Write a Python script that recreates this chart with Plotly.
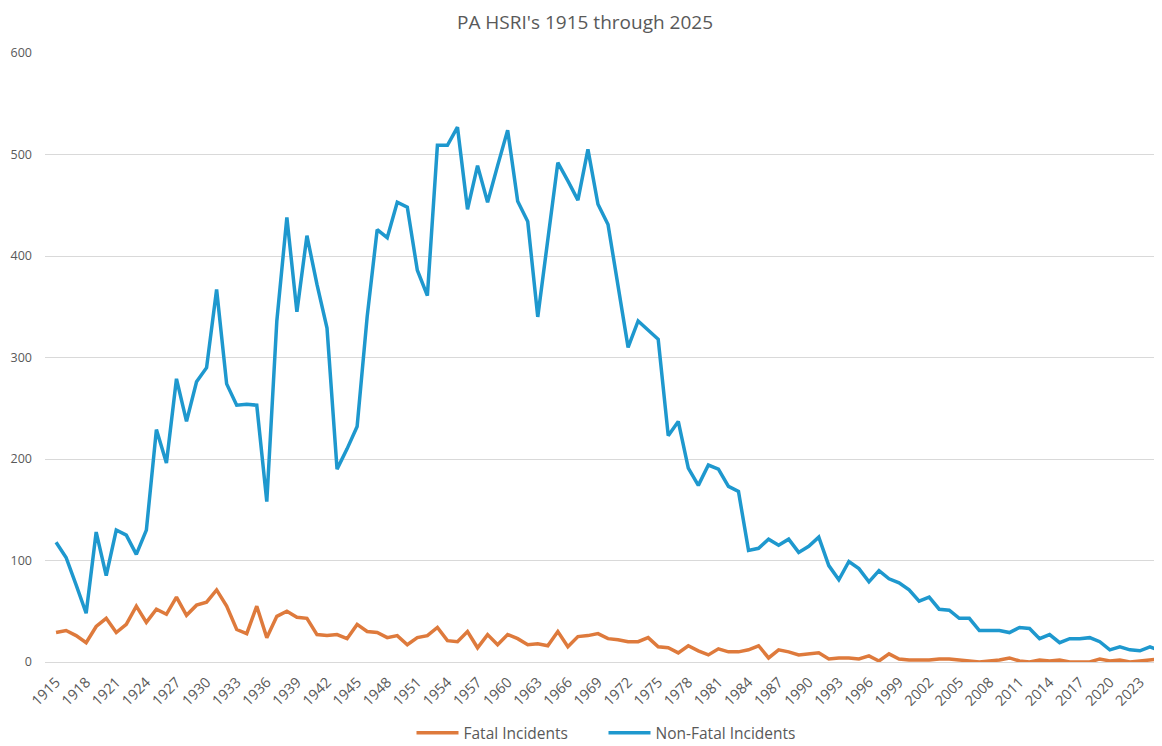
import plotly.graph_objects as go

years = list(range(1915, 2026))

fatal = [29, 31, 26, 19, 35, 43, 29, 37, 55, 39,
         52, 47, 64, 46, 56, 59, 71, 55, 32, 28,
         55, 24, 45, 50, 44, 43, 27, 26, 27, 23,
         37, 30, 29, 24, 26, 17, 24, 26, 34, 21,
         20, 30, 14, 27, 17, 27, 23, 17, 18, 16,
         30, 15, 25, 26, 28, 23, 22, 20, 20, 24,
         15, 14, 9, 16, 11, 7, 13, 10, 10, 12,
         16, 4, 12, 10, 7, 8, 9, 3, 4, 4,
         3, 6, 1, 8, 3, 2, 2, 2, 3, 3,
         2, 1, 0, 1, 2, 4, 1, 0, 2, 1,
         2, 0, 0, 0, 3, 1, 2, 0, 1, 2,
         3]

non_fatal = [118, 103, 76, 48, 128, 85, 130, 125, 106, 130,
             229, 196, 279, 237, 276, 290, 367, 274, 253, 254,
             253, 158, 336, 438, 345, 420, 372, 329, 190, 210,
             232, 340, 426, 418, 453, 448, 386, 361, 509, 509,
             527, 446, 489, 453, 489, 524, 454, 434, 340, 415,
             492, 474, 455, 505, 451, 431, 372, 310, 336, 327,
             318, 223, 237, 191, 174, 194, 190, 173, 168, 110,
             112, 121, 115, 121, 108, 114, 123, 95, 81, 99,
             92, 79, 90, 82, 78, 71, 60, 64, 52, 51,
             43, 43, 31, 31, 31, 29, 34, 33, 23, 27,
             19, 23, 23, 24, 20, 12, 15, 12, 11, 15,
             11]

tick_years = list(range(1915, 2024, 3))
tick_labels = [str(y) for y in tick_years]

fig = go.Figure()
fig.add_trace(go.Scatter(x=years, y=fatal, mode="lines", name="Fatal Incidents",
                         line=dict(color="#DE7A3C", width=3.5)))
fig.add_trace(go.Scatter(x=years, y=non_fatal, mode="lines", name="Non-Fatal Incidents",
                         line=dict(color="#1E98CE", width=3.5)))

fig.update_layout(
    width=1154, height=738,
    paper_bgcolor="white", plot_bgcolor="white",
    margin=dict(l=37, r=0, t=45, b=84, autoexpand=False),
    title=dict(text="PA HSRI's 1915 through 2025", x=0.5, xanchor="center",
               y=0.981, yanchor="middle",
               font=dict(family="Open Sans", size=19, color="#595959")),
    font=dict(family="Open Sans", color="#595959"),
    showlegend=True,
    legend=dict(orientation="h", x=0.5, xanchor="center", y=-0.117, yanchor="middle",
                font=dict(size=15.5, color="#595959"), itemwidth=42,
                entrywidth=135, entrywidthmode="pixels",
                bgcolor="rgba(0,0,0,0)"),
    xaxis=dict(range=[1913.9, 2025.2], tickmode="array", tickvals=tick_years,
               ticktext=tick_labels, tickangle=-45, showgrid=False, zeroline=False,
               showline=False, ticks="", automargin=False, ticklabelstandoff=8,
               tickfont=dict(size=14.5, color="#595959")),
    yaxis=dict(range=[0, 600], dtick=100, showgrid=True, gridcolor="#D9D9D9",
               gridwidth=1, zeroline=True, zerolinecolor="#D9D9D9", zerolinewidth=1,
               showline=False, ticks="", ticklabelstandoff=12, automargin=False,
               tickfont=dict(size=12.5, color="#595959")),
)

fig.write_html("out.html")
